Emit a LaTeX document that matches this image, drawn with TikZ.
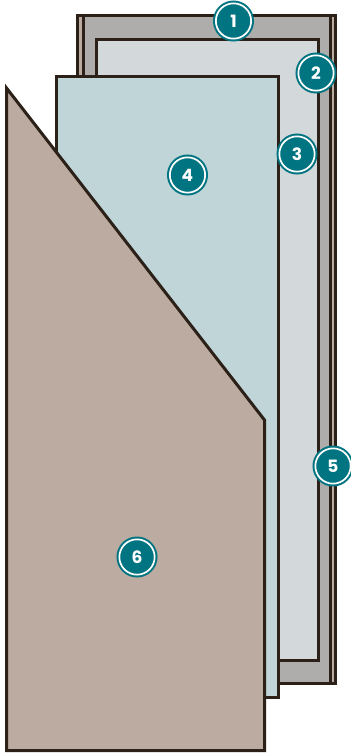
\documentclass[tikz,border=0pt]{standalone}
\usepackage{fontspec}
\setmainfont{Poppins}
\definecolor{inkc}{HTML}{2B2118}
\definecolor{tealc}{HTML}{007480}
\definecolor{taupec}{HTML}{BCABA0}
\definecolor{grayc}{HTML}{AEADAB}
\definecolor{lightc}{HTML}{D3D8DA}
\definecolor{aquac}{HTML}{BFD5D8}
\tikzset{
  panel/.style={draw=inkc,line width=3pt,line join=miter},
  badge/.style={circle,fill=tealc,draw=white,line width=1.7pt,minimum size=35.3pt,inner sep=0pt,
    text=white,font=\fontsize{17}{17}\selectfont\bfseries},
  badgering/.style={circle,draw=tealc,line width=2.6pt,minimum size=38.4pt,inner sep=0pt}
}
\newcommand{\numbadge}[3]{%
  \node[badgering] at (#2) {};
  \node[badge] (#1) at (#2) {#3};}
\begin{document}
\begin{tikzpicture}[x=1pt,y=-1pt]
\useasboundingbox (0,0) rectangle (351,753);
\clip (0,0) rectangle (351,753);
\fill[white] (0,0) rectangle (351,753);
\draw[panel,fill=taupec] (77,15) rectangle (335.5,683);
\draw[panel,fill=grayc] (83,15) rectangle (330,683);
\draw[panel,fill=lightc] (96,39) rectangle (318,660);
\draw[panel,fill=aquac] (56,76) rectangle (278.5,697.5);
\draw[panel,fill=taupec] (6.5,88) -- (264.5,420) -- (264.5,750.5) -- (6.5,750.5) -- cycle;
\numbadge{n1}{233.5,21}{1}
\numbadge{n2}{316,73}{2}
\numbadge{n3}{297,154}{3}
\numbadge{n4}{187.5,175}{4}
\numbadge{n5}{333,466}{5}
\numbadge{n6}{137,557}{6}
\end{tikzpicture}
\end{document}
